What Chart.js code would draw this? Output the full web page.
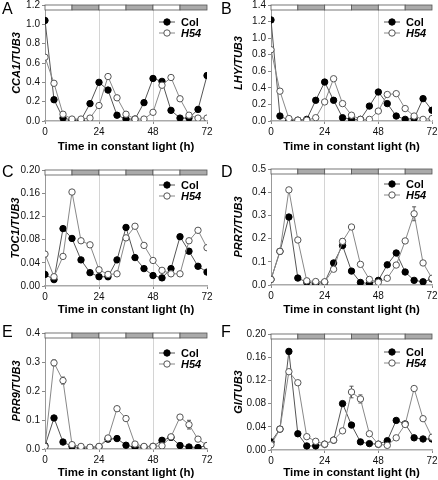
<!DOCTYPE html>
<html lang="en">
<head>
<meta charset="UTF-8">
<title>Clock gene expression in constant light</title>
<style>
  body { margin: 0; background: #fff; }
  #fig { position: relative; width: 438px; height: 480px; font-family: 'Liberation Sans', Arial, sans-serif; }
  #fig canvas { position: absolute; }
  .tag { position: absolute; font-size: 16px; line-height: 16px; color: #000; }
</style>
</head>
<body>
<div id="fig"></div>

<script src="https://cdn.jsdelivr.net/npm/chart.js"></script>
<script>
// sampling times, hours in constant light
const hours = [0, 4, 8, 12, 16, 20, 24, 28, 32, 36, 40, 44, 48, 52, 56, 60, 64, 68, 72];
// subjective day / night blocks shown as the bar along the top
const barEdges = [0, 12, 24, 36, 48, 60, 72];
const barIsNight = [false, true, false, true, false, true];

// A - CCA1
const cca1Col = [1.04, 0.22, 0.03, 0.01, 0.01, 0.18, 0.40, 0.32, 0.06, 0.02, 0.02, 0.19, 0.44, 0.41, 0.11, 0.03, 0.03, 0.12, 0.47];
const cca1H54 = [0.66, 0.39, 0.07, 0.02, 0.02, 0.03, 0.16, 0.46, 0.24, 0.07, 0.02, 0.02, 0.09, 0.37, 0.45, 0.23, 0.06, 0.03, 0.03];
// B - LHY
const lhyCol = [1.22, 0.06, 0.01, 0.01, 0.02, 0.25, 0.47, 0.25, 0.04, 0.02, 0.02, 0.18, 0.35, 0.21, 0.06, 0.02, 0.03, 0.27, 0.13];
const lhyH54 = [0.86, 0.36, 0.03, 0.01, 0.01, 0.04, 0.23, 0.51, 0.21, 0.07, 0.02, 0.02, 0.12, 0.32, 0.33, 0.15, 0.06, 0.02, 0.03];
// C - TOC1
const toc1Col = [0.020, 0.011, 0.099, 0.082, 0.045, 0.023, 0.016, 0.016, 0.045, 0.101, 0.049, 0.030, 0.018, 0.014, 0.030, 0.085, 0.060, 0.034, 0.024];
const toc1H54 = [0.055, 0.016, 0.051, 0.162, 0.078, 0.071, 0.028, 0.020, 0.021, 0.083, 0.103, 0.070, 0.044, 0.027, 0.021, 0.021, 0.078, 0.096, 0.066];
const toc1ColErr = [0, 0, 0, 0, 0, 0, 0, 0.005, 0, 0, 0, 0, 0, 0, 0, 0, 0, 0, 0];
// D - PRR7
const prr7Col = [0.024, 0.145, 0.293, 0.030, 0.012, 0.006, 0.012, 0.095, 0.170, 0.060, 0.011, 0.006, 0.020, 0.087, 0.138, 0.056, 0.020, 0.014, 0.026];
const prr7H54 = [0.024, 0.145, 0.410, 0.194, 0.018, 0.015, 0.014, 0.068, 0.188, 0.250, 0.089, 0.024, 0.012, 0.029, 0.086, 0.190, 0.307, 0.095, 0.029];
const prr7H54Err = [0, 0, 0, 0, 0, 0, 0, 0, 0.012, 0, 0, 0, 0, 0, 0, 0, 0.030, 0, 0];
// E - PRR9
const prr9Col = [0.011, 0.107, 0.024, 0.009, 0.003, 0.005, 0.008, 0.034, 0.036, 0.013, 0.006, 0.007, 0.009, 0.030, 0.040, 0.012, 0.007, 0.005, 0.012];
const prr9H54 = [0.009, 0.297, 0.236, 0.015, 0.009, 0.006, 0.009, 0.038, 0.139, 0.105, 0.017, 0.009, 0.009, 0.011, 0.042, 0.110, 0.084, 0.034, 0.012];
const prr9H54Err = [0, 0.010, 0.012, 0, 0, 0, 0, 0, 0, 0, 0, 0, 0, 0, 0, 0, 0.015, 0, 0];
// F - GI
const giCol = [0.014, 0.036, 0.170, 0.028, 0.007, 0.007, 0.010, 0.017, 0.080, 0.043, 0.014, 0.011, 0.010, 0.016, 0.051, 0.045, 0.021, 0.019, 0.019];
const giH54 = [0.009, 0.036, 0.135, 0.116, 0.023, 0.015, 0.010, 0.017, 0.033, 0.100, 0.088, 0.028, 0.010, 0.008, 0.021, 0.044, 0.106, 0.054, 0.022];
const giColErr = [0, 0, 0.004, 0, 0, 0, 0, 0, 0, 0, 0, 0, 0, 0, 0, 0, 0, 0, 0];
const giH54Err = [0, 0, 0, 0, 0, 0, 0, 0, 0, 0.010, 0.007, 0, 0, 0, 0, 0, 0, 0, 0];

const FONT = "'Liberation Sans', Arial, sans-serif";
Chart.defaults.font.family = FONT;
Chart.defaults.color = '#111';

// one entry per panel; box = canvas left/top, pad = layout of the plot area inside it
const panels = [
  { tag: 'A', gene: 'CCA1', col: cca1Col, h54: cca1H54, yMax: 1.2, step: 0.2, dec: 1,
    left: 0, top: 0, axisW: 45, padR: 12, padT: 5, axisH: 39, titleB: 6, yTitleP: 10, legT: 17 },
  { tag: 'B', gene: 'LHY', col: lhyCol, h54: lhyH54, yMax: 1.4, step: 0.2, dec: 1,
    left: 219, top: 0, axisW: 52, padR: 6, padT: 5, axisH: 39, titleB: 6, yTitleP: 13, legT: 17 },
  { tag: 'C', gene: 'TOC1', col: toc1Col, h54: toc1H54, colErr: toc1ColErr, yMax: 0.2, step: 0.04, dec: 2,
    left: 0, top: 160, axisW: 45, padR: 12, padT: 10, axisH: 34, titleB: 3, yTitleP: 9, legT: 15 },
  { tag: 'D', gene: 'PRR7', col: prr7Col, h54: prr7H54, h54Err: prr7H54Err, yMax: 0.5, step: 0.1, dec: 1,
    left: 219, top: 160, axisW: 52, padR: 6, padT: 9, axisH: 35, titleB: 3, yTitleP: 13, legT: 15 },
  { tag: 'E', gene: 'PRR9', col: prr9Col, h54: prr9H54, h54Err: prr9H54Err, yMax: 0.4, step: 0.1, dec: 1,
    left: 0, top: 320, axisW: 45, padR: 12, padT: 13, axisH: 31, titleB: 0, yTitleP: 10, legT: 20 },
  { tag: 'F', gene: 'GI', col: giCol, h54: giH54, colErr: giColErr, h54Err: giH54Err, yMax: 0.2, step: 0.04, dec: 2,
    left: 219, top: 320, axisW: 52, padR: 6, padT: 14, axisH: 30, titleB: 0, yTitleP: 13, legT: 18 }
];

// light/dark bar across the top of the plot
const dayBar = {
  id: 'dayBar',
  beforeDatasetsDraw(chart) {
    const { ctx, chartArea, scales: { x } } = chart;
    const h = 5;
    ctx.save();
    ctx.lineWidth = 0.8;
    ctx.strokeStyle = '#555';
    for (let i = 0; i < barIsNight.length; i++) {
      const x0 = x.getPixelForValue(barEdges[i]);
      const x1 = x.getPixelForValue(barEdges[i + 1]);
      ctx.fillStyle = barIsNight[i] ? '#aaaaaa' : '#ffffff';
      ctx.fillRect(x0, chartArea.top, x1 - x0, h);
      ctx.strokeRect(x0, chartArea.top, x1 - x0, h);
    }
    ctx.restore();
  }
};

// vertical SE bars, drawn under the markers
const errBars = {
  id: 'errBars',
  beforeDatasetsDraw(chart) {
    const { ctx, scales: { x, y } } = chart;
    ctx.save();
    ctx.strokeStyle = '#555';
    ctx.lineWidth = 1;
    chart.data.datasets.forEach(ds => {
      if (!ds.errors) return;
      ds.data.forEach((p, i) => {
        const e = ds.errors[i];
        if (!e) return;
        const px = x.getPixelForValue(p.x);
        const yt = y.getPixelForValue(p.y + e);
        const yb = y.getPixelForValue(Math.max(p.y - e, 0));
        ctx.beginPath();
        ctx.moveTo(px, yt); ctx.lineTo(px, yb);
        ctx.moveTo(px - 2, yt); ctx.lineTo(px + 2, yt);
        ctx.moveTo(px - 2, yb); ctx.lineTo(px + 2, yb);
        ctx.stroke();
      });
    });
    ctx.restore();
  }
};

// legend inside the plot, top right
const cornerLegend = {
  id: 'cornerLegend',
  afterDatasetsDraw(chart, args, opts) {
    const { ctx, chartArea } = chart;
    ctx.save();
    chart.data.datasets.forEach((ds, i) => {
      const y = chartArea.top + opts.top + i * 11;
      const x0 = chartArea.right - 48;
      ctx.strokeStyle = ds.borderColor;
      ctx.lineWidth = 1;
      ctx.beginPath();
      ctx.moveTo(x0, y); ctx.lineTo(x0 + 16, y);
      ctx.stroke();
      ctx.beginPath();
      ctx.arc(x0 + 8, y, 3.2, 0, Math.PI * 2);
      ctx.fillStyle = ds.pointBackgroundColor;
      ctx.fill();
      ctx.strokeStyle = ds.pointBorderColor;
      ctx.stroke();
      ctx.fillStyle = '#000';
      ctx.font = (i === 1 ? 'italic ' : '') + 'bold 11px ' + FONT;
      ctx.textBaseline = 'middle';
      ctx.fillText(ds.label, x0 + 22, y + 0.5);
    });
    ctx.restore();
  }
};

const fig = document.getElementById('fig');

panels.forEach(p => {
  const canvas = document.createElement('canvas');
  canvas.width = 219;
  canvas.height = 160;
  canvas.style.left = p.left + 'px';
  canvas.style.top = p.top + 'px';
  fig.appendChild(canvas);

  const tag = document.createElement('div');
  tag.className = 'tag';
  tag.textContent = p.tag;
  tag.style.left = (p.left + 2) + 'px';
  tag.style.top = (p.top + (p.top ? 4 : 1)) + 'px';
  fig.appendChild(tag);

  const toPts = vals => hours.map((h, i) => ({ x: h, y: vals[i] }));

  new Chart(canvas, {
    type: 'line',
    data: {
      datasets: [
        {
          label: 'Col', data: toPts(p.col), errors: p.colErr, order: 2,
          borderColor: '#555', borderWidth: 1, tension: 0,
          pointRadius: 3.2, pointBackgroundColor: '#000', pointBorderColor: '#000', pointBorderWidth: 1
        },
        {
          label: 'H54', data: toPts(p.h54), errors: p.h54Err, order: 1,
          borderColor: '#888', borderWidth: 1, tension: 0,
          pointRadius: 3.2, pointBackgroundColor: '#fff', pointBorderColor: '#555', pointBorderWidth: 1
        }
      ]
    },
    options: {
      responsive: false,
      animation: false,
      devicePixelRatio: 1,
      layout: { padding: { left: 0, top: p.padT, right: p.padR, bottom: 0 } },
      plugins: {
        legend: { display: false },
        tooltip: { enabled: false },
        cornerLegend: { top: p.legT }
      },
      scales: {
        x: {
          type: 'linear', min: 0, max: 72,
          afterFit(s) { s.height = p.axisH; s.paddingLeft = 0; s.paddingRight = 0; },
          ticks: { stepSize: 24, padding: 2, font: { size: 10 }, color: '#111', maxRotation: 0 },
          grid: {
            color: c => (c.tick && (c.tick.value === 24 || c.tick.value === 48)) ? '#d4d4d4' : 'rgba(0,0,0,0)',
            tickColor: '#888', tickLength: 3, lineWidth: 1
          },
          border: { color: '#aaa', width: 1.5 },
          title: {
            display: true, text: 'Time in constant light (h)', color: '#000',
            font: { size: 11.5, weight: 'bold' }, padding: { top: 0, bottom: p.titleB }
          }
        },
        y: {
          min: 0, max: p.yMax,
          afterFit(s) { s.width = p.axisW; s.paddingTop = 0; s.paddingBottom = 0; },
          ticks: { stepSize: p.step, padding: 2, font: { size: 10 }, color: '#111',
                   callback: v => v.toFixed(p.dec) },
          grid: { drawOnChartArea: false, tickColor: '#888', tickLength: 3 },
          border: { color: '#999', width: 1 },
          title: {
            display: true, text: p.gene + '/TUB3', color: '#000',
            font: { size: 11, weight: 'bold', style: 'italic' }, padding: { top: p.yTitleP, bottom: 0 }
          }
        }
      }
    },
    plugins: [dayBar, errBars, cornerLegend]
  });
});
</script>
</body>
</html>
